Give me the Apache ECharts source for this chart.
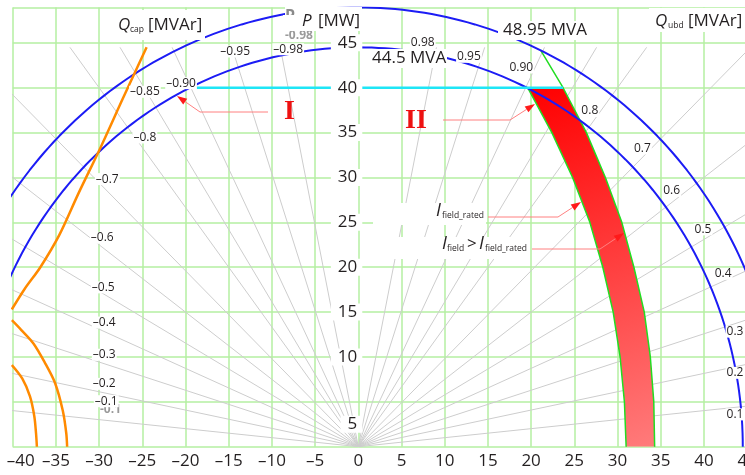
<!DOCTYPE html>
<html lang="en">
<head>
<meta charset="UTF-8">
<title>Generator capability diagram</title>
<script src="https://cdn.jsdelivr.net/npm/echarts@6/dist/echarts.min.js"></script>
<style>
    html, body { margin: 0; padding: 0; background: #fff; }
    #chart { width: 745px; height: 475px; }
</style>
</head>
<body>
<div id="chart"></div>
<script type="text/javascript">
    // ---- data ----
    const yTickLabels = [5, 10, 15, 20, 25, 30, 35, 40, 45];

    // apparent power limits [MVA]
    const mvaRatings = [44.5, 48.95];

    // power factor rays, labels on the capacitive (left) and under-excited (right) side
    const pfValues = [0.98, 0.95, 0.90, 0.85, 0.8, 0.7, 0.6, 0.5, 0.4, 0.3, 0.2, 0.1];
    const pfLabelsLeft = ['–0.98', '–0.95', '–0.90', '–0.85', '–0.8', '–0.7', '–0.6', '–0.5', '–0.4', '–0.3', '–0.2', '–0.1'];
    const pfLabelsRight = ['0.98', '0.95', '0.90', '', '0.8', '0.7', '0.6', '0.5', '0.4', '0.3', '0.2', '0.1'];
    const pfRayTop = 44.5;

    // turbine limit line at P = 40 MW
    const turbineP = 40;
    const turbineQ = [-19.6, 23.7];

    // field current limits: Q [MVAr] at P [MW]
    const fieldP = [40, 35, 30, 25, 20, 15, 10, 5, 0];
    const fieldRatedQ = [19.6, 22.4, 24.8, 26.8, 28.3, 29.5, 30.3, 30.8, 31.0];
    const fieldOverQ = [23.7, 26.4, 28.6, 30.5, 31.9, 33.1, 33.8, 34.2, 34.3];
    const fieldOverTop = [21.1, 44.2];

    // under-excitation / stability curves [Q, P]
    const stabilityCurve = [[-24.5, 44.5], [-27.2, 38.9], [-29.8, 33.4], [-32.4, 28.2], [-34.6, 23.6],
        [-36.8, 20.0], [-38.6, 17.6], [-40.1, 15.3]];
    const ueCurve1 = [[-40.1, 14.1], [-39.0, 13.0], [-37.6, 11.5], [-36.3, 9.4], [-35.1, 7.1], [-34.2, 4.0], [-33.8, 1.5], [-33.7, 0]];
    const ueCurve2 = [[-40.1, 9.1], [-38.9, 7.6], [-38.0, 5.6], [-37.5, 3.4], [-37.3, 1.5], [-37.2, 0]];

    // ---- styles / layout ----
    const FONT = '"Open Sans", "Noto Sans", sans-serif';
    const INK = '#231f20';
    const GREEN = '#b4efa2';
    const X_MIN = -40, X_MAX = 45, Y_MAX = 48.95;
    const GRID = {left: 12.7, right: -2.1, top: 7.4, bottom: 28.3};
    const PX_PER_Q = (745 - GRID.left - GRID.right) / (X_MAX - X_MIN);

    // pixel nudges for the power factor labels
    const pfNudge = {
        '–0.98': [9, 7], '–0.95': [1, -3], '–0.90': [-4, 8], '–0.85': [-4, -4], '–0.8': [25, 21],
        '–0.7': [3, 0], '–0.6': [-2, -2], '–0.5': [-1, 2], '–0.1': [2, -10],
        '0.98': [-15, 2], '0.95': [-14, 4], '0.90': [-11, -6], '0.8': [-8, -4], '0.7': [-1, -8],
        '0.6': [-6, -7], '0.5': [-1, -10], '0.4': [-1, -7], '0.3': [0, 8], '0.2': [0, 6], '0.1': [0, 7]
    };

    let chart = echarts.init(document.getElementById('chart'));

    function lineSeries(data, color, width, z, extra) {
        return Object.assign({
            type: 'line', data: data, z: z, symbol: 'none', silent: true,
            animation: false, lineStyle: {color: color, width: width}
        }, extra || {});
    }

    let series = [];

    // power factor rays
    pfValues.forEach(pf => {
        let t = Math.tan(Math.acos(pf));
        series.push(lineSeries([[0, 0], [-pfRayTop * t, pfRayTop]], '#cdcdcd', 1, 1));
        series.push(lineSeries([[0, 0], [pfRayTop * t, pfRayTop]], '#cdcdcd', 1, 1));
    });

    // field current band
    let ratedPts = fieldP.map((p, i) => [fieldRatedQ[i], p]);
    let overPts = fieldP.map((p, i) => [fieldOverQ[i], p]);
    let band = ratedPts.concat(overPts.slice().reverse());
    series.push({
        type: 'custom', z: 2, silent: true, animation: false, clip: true,
        data: [[0, 0]],
        renderItem: (params, api) => ({
            type: 'polygon',
            shape: {points: band.map(p => api.coord(p))},
            style: {
                fill: new echarts.graphic.LinearGradient(0, 0, 1, 1, [
                    {offset: 0, color: '#ff0000'},
                    {offset: 1, color: '#ff7b7b'}
                ])
            }
        })
    });
    series.push(lineSeries(ratedPts, '#22dd22', 1.5, 3));
    series.push(lineSeries([fieldOverTop].concat(overPts), '#22dd22', 1.5, 3));

    // MVA circles
    mvaRatings.forEach(s => {
        let pts = [];
        for (let a = 0; a <= 180; a++) {
            let t = a * Math.PI / 180;
            pts.push([s * Math.cos(t), s * Math.sin(t)]);
        }
        series.push(lineSeries(pts, '#1c1cf5', 2, 3));
    });

    // orange curves
    [stabilityCurve, ueCurve1, ueCurve2].forEach(c => {
        series.push(lineSeries(c, '#ff8a00', 2.5, 3, {smooth: 0.3}));
    });

    // turbine limit
    series.push(lineSeries([[turbineQ[0], turbineP], [turbineQ[1], turbineP]], '#1ee6f6', 2.5, 3));

    // ---- annotations (pixel space) ----
    function txt(x, y, text, size, style, z) {
        return {
            type: 'text', x: x, y: y, z: z || 21, silent: true,
            style: Object.assign({
                text: text, fontSize: size, fontFamily: FONT, fill: INK,
                verticalAlign: 'middle', align: 'left'
            }, style || {})
        };
    }
    function box(x, y, w, h, z) {
        return {type: 'rect', z: z || 20, silent: true, shape: {x: x, y: y, width: w, height: h}, style: {fill: '#fff'}};
    }
    function arrow(points, tip) {
        let last = points[points.length - 1];
        let dx = tip[0] - last[0], dy = tip[1] - last[1];
        let len = Math.sqrt(dx * dx + dy * dy);
        let ux = dx / len, uy = dy / len;
        let bx = tip[0] - ux * 10, by = tip[1] - uy * 10;
        return [
            {type: 'polyline', z: 6, silent: true, shape: {points: points.concat([[bx, by]])},
                style: {stroke: '#ff8080', lineWidth: 1, fill: null}},
            {type: 'polygon', z: 6, silent: true,
                shape: {points: [tip, [bx - uy * 3.5, by + ux * 3.5], [bx + uy * 3.5, by - ux * 3.5]]},
                style: {fill: '#ff1a1a'}}
        ];
    }
    const ROMAN = {fontFamily: '"Liberation Serif", "DejaVu Serif", serif', fontWeight: 'bold', fill: '#ee1111'};

    let graphics = [
        // axis titles
        box(112, 10, 93, 30),
        txt(118, 25, 'Q', 17, {fontStyle: 'italic'}),
        txt(130, 30, 'cap', 8.5),
        txt(148, 25, '[MVAr]', 17),

        box(285, 7, 77, 24),
        txt(285, 16, 'P', 16, {fill: '#8a8a8a', fontWeight: 'bold'}, 20.5),
        box(283, 15, 17, 16, 20.6),
        txt(302, 21, 'P', 17, {fontStyle: 'italic'}),
        txt(318, 21, '[MW]', 17),

        box(649, 8, 96, 24),
        txt(655, 21, 'Q', 17, {fontStyle: 'italic'}),
        txt(668, 26, 'ubd', 8.5),
        txt(688, 21, '[MVAr]', 17),

        // MVA labels
        box(498, 21, 92, 19),
        txt(503, 30, '48.95 MVA', 17),
        box(368, 49, 79, 19),
        txt(372, 58.5, '44.5 MVA', 17),

        // ghost labels
        txt(285, 36, '-0.98', 12, {fill: '#9a9a9a', fontWeight: 'bold'}, 4),
        txt(100, 410, '-0.1', 12, {fill: '#9a9a9a', fontWeight: 'bold'}, 4),

        // region markers
        txt(284, 112, 'I', 28, ROMAN),
        txt(405, 121, 'II', 28, ROMAN),

        // field current labels
        box(373, 203, 113, 22, 4),
        box(380, 237, 150, 22, 4),
        txt(436, 211, 'I', 18, {fontStyle: 'italic'}),
        txt(442, 216, 'field_rated', 8.5),
        txt(442, 244, 'I', 18, {fontStyle: 'italic'}),
        txt(447, 249, 'field', 8.5),
        txt(467, 244, '>', 17),
        txt(479, 244, 'I', 18, {fontStyle: 'italic'}),
        txt(485, 249, 'field_rated', 8.5)
    ];
    graphics = graphics
        .concat(arrow([[268, 112], [200, 112]], [177, 96]))
        .concat(arrow([[443, 120], [510, 120]], [535, 104]))
        .concat(arrow([[488, 217], [558, 217]], [581, 202]))
        .concat(arrow([[532, 249], [600, 249]], [624, 233]));

    let yLabelPos = yTickLabels.map(v => v === 5 ? 2.5 : v);

    chart.setOption({
        animation: false,
        grid: Object.assign({containLabel: false, outerBoundsMode: 'none'}, GRID),
        xAxis: {
            type: 'value', min: X_MIN, max: X_MAX, interval: 5,
            axisLine: {show: false}, axisTick: {show: false},
            splitLine: {show: true, lineStyle: {color: GREEN, width: 1.5}},
            axisLabel: {
                color: INK, fontSize: 17, fontFamily: FONT, margin: 6,
                formatter: v => v === X_MIN ? '{first|–' + (-v) + '}' : (v < 0 ? '–' + (-v) : String(v)),
                rich: {first: {fontSize: 17, fontFamily: FONT, color: INK, padding: [0, 0, 0, 16]}}
            }
        },
        yAxis: [
            {
                type: 'value', min: 0, max: Y_MAX, interval: 5, position: 'left',
                axisLine: {show: false, onZero: false}, axisTick: {show: false}, axisLabel: {show: false},
                splitLine: {show: true, lineStyle: {color: GREEN, width: 1.5}}
            },
            {
                type: 'value', min: 0, max: Y_MAX, position: 'left', z: 10,
                // sits on Q = 0
                offset: X_MIN * PX_PER_Q,
                axisLine: {show: false, onZero: false},
                axisTick: {show: false}, splitLine: {show: false},
                axisLabel: {
                    show: true, customValues: yLabelPos,
                    formatter: v => String(yTickLabels[yLabelPos.indexOf(v)]),
                    color: INK, fontSize: 17, fontFamily: FONT,
                    backgroundColor: '#fff', padding: [0, 5, 0, 7], margin: -4
                }
            }
        ],
        series: series,
        graphic: {elements: graphics}
    });

    // power factor labels, anchored on their rays through the chart's scales
    function pfLabel(q, p, name) {
        let px = chart.convertToPixel({gridIndex: 0}, [q, p]);
        let d = pfNudge[name] || [0, 0];
        return {
            type: 'text', x: px[0] + d[0], y: px[1] + d[1], z: 5, silent: true,
            style: {
                text: name, fontSize: 12, fontFamily: FONT, fill: INK,
                align: 'center', verticalAlign: 'middle',
                backgroundColor: '#fff', padding: [0, 1]
            }
        };
    }
    let pfLabelEls = [];
    pfValues.forEach((pf, i) => {
        let s = Math.sin(Math.acos(pf));
        let r = 46, q = -r * s, p = r * pf;
        if (q < -29.4) {
            r = 29.4 / s; q = -29.4; p = r * pf + 1.0;
        }
        pfLabelEls.push(pfLabel(q, p, pfLabelsLeft[i]));
        if (pfLabelsRight[i]) {
            r = 46.2; q = r * s; p = r * pf;
            if (q > 43.6) {
                r = 43.6 / s; q = 43.6; p = r * pf;
            }
            pfLabelEls.push(pfLabel(q, p, pfLabelsRight[i]));
        }
    });
    chart.setOption({graphic: {elements: graphics.concat(pfLabelEls)}});
</script>
</body>
</html>
